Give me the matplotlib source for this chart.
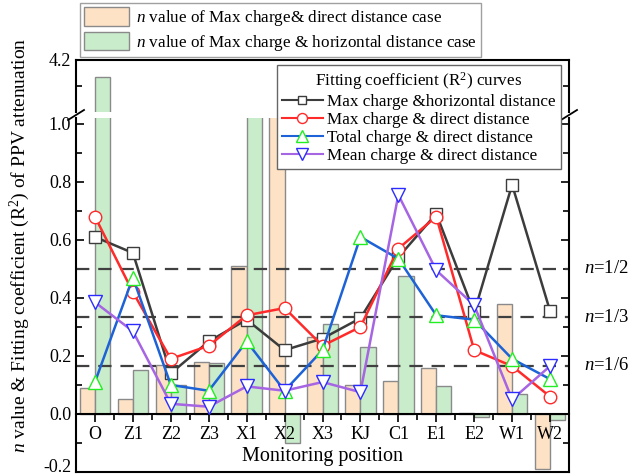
import matplotlib
matplotlib.use("Agg")
import matplotlib.pyplot as plt
import numpy as np
from matplotlib.patches import Patch
from matplotlib.lines import Line2D
from matplotlib.ticker import MultipleLocator, FixedLocator

plt.rcParams['font.family'] = ['Liberation Serif', 'DejaVu Serif']
plt.rcParams['mathtext.fontset'] = 'custom'
plt.rcParams['mathtext.rm'] = 'Liberation Serif'
plt.rcParams['mathtext.it'] = 'Liberation Serif:italic'

positions = ['O', 'Z1', 'Z2', 'Z3', 'X1', 'X2', 'X3', 'KJ', 'C1', 'E1', 'E2', 'W1', 'W2']

n_direct = [0.09, 0.05, 0.17, 0.18, 0.51, 1.30, 0.265, 0.10, 0.115, 0.16, 0.005, 0.38, -0.19]
n_horizontal = [4.00, 0.15, 0.10, 0.175, 1.50, -0.10, 0.31, 0.23, 0.475, 0.095, -0.01, 0.07, -0.02]

r2_max_horizontal = [0.61, 0.555, 0.14, 0.25, 0.325, 0.22, 0.26, 0.33, 0.54, 0.69, 0.35, 0.79, 0.355]
r2_max_direct = [0.68, 0.42, 0.19, 0.235, 0.34, 0.365, 0.235, 0.30, 0.57, 0.68, 0.22, 0.165, 0.06]
r2_total_direct = [0.11, 0.47, 0.10, 0.08, 0.25, 0.08, 0.22, 0.61, 0.535, 0.34, 0.325, 0.19, 0.12]
r2_mean_direct = [0.385, 0.285, 0.035, 0.025, 0.095, 0.08, 0.11, 0.075, 0.755, 0.495, 0.375, 0.05, 0.165]

n_levels = [1/2, 1/3, 1/6]
n_labels = ['$n$=1/2', '$n$=1/3', '$n$=1/6']

W, H = 638, 476
fig = plt.figure(figsize=(W/100, H/100), dpi=100)

left, right = 76/W, 569/W
ax = fig.add_axes([left, 1-472/H, right-left, (472-118)/H])
axu = fig.add_axes([left, 1-112/H, right-left, (112-60)/H], sharex=ax)

x = np.arange(len(positions))
bw = 0.4
c_or, c_gr = '#fde2c6', '#c9eccb'
edge = '#8a8a8a'

for a in (ax, axu):
    a.bar(x - bw/2, n_direct, width=bw, color=c_or, edgecolor=edge, linewidth=1.0, zorder=1)
    a.bar(x + bw/2, n_horizontal, width=bw, color=c_gr, edgecolor=edge, linewidth=1.0, zorder=1)

series = [
    (r2_max_horizontal, '#3c3c3c', 's', '#3c3c3c', 'Max charge &horizontal distance', 8),
    (r2_max_direct, '#ff2a2a', 'o', '#ff2a2a', 'Max charge & direct distance', 9),
    (r2_total_direct, '#1d62d6', '^', '#22ee22', 'Total charge & direct distance', 10),
    (r2_mean_direct, '#a665e2', 'v', '#2b2bff', 'Mean charge & direct distance', 10),
]
handles_lines = []
for vals, lc, mk, mc, lab, ms in series:
    ax.plot(x, vals, color=lc, lw=1.8, marker=mk, markersize=ms, markerfacecolor='white',
            markeredgecolor=mc, markeredgewidth=1.0, zorder=3)
    handles_lines.append(Line2D([], [], color=lc, lw=1.5, marker=mk, markersize=ms*0.8,
                                markerfacecolor='white', markeredgecolor=mc, markeredgewidth=1.0, label=lab))

for lv, lab in zip(n_levels, n_labels):
    ax.axhline(lv, color='#404040', lw=1.6, ls=(0, (6, 4)), zorder=2)
    ax.text(1.03, lv, lab, transform=ax.get_yaxis_transform(), ha='left', va='center', fontsize=13.5)

ax.set_xlim(-0.5, len(positions) - 0.5)
ax.set_ylim(-0.2, 1.02)
axu.set_ylim(3.6, 4.2)

# lower axes styling
ax.spines['top'].set_visible(False)
ax.spines['bottom'].set_position(('data', 0))
ax.spines['bottom'].set_linewidth(1.5)
ax.spines['left'].set_linewidth(1.5)
ax.spines['right'].set_linewidth(1.5)
ax.plot([0, 1], [0, 0], transform=ax.transAxes, color='black', lw=1.5, clip_on=False, zorder=5)
ax.set_xticks(x)
ax.set_xticklabels(positions, fontsize=13)
ax.xaxis.set_minor_locator(FixedLocator(x[:-1] + 0.5))
ax.tick_params(axis='x', which='major', direction='out', length=6, width=1.2, pad=3)
ax.tick_params(axis='x', which='minor', direction='out', length=4, width=1.2)
ax.set_yticks([-0.2, 0.0, 0.2, 0.4, 0.6, 0.8, 1.0])
ax.set_yticklabels(['-0.2', '0.0', '0.2', '0.4', '0.6', '0.8', '1.0'], fontsize=13)
ax.get_yticklabels()[0].set_va('baseline')
ax.yaxis.set_minor_locator(MultipleLocator(0.1))
ax.tick_params(axis='y', which='both', direction='in', left=True, right=True, width=1.2)
ax.tick_params(axis='y', which='major', length=6)
ax.tick_params(axis='y', which='minor', length=4)
ax.set_xlabel('Monitoring position', fontsize=14.5)
ax.xaxis.set_label_coords(0.5, 0.072)

# upper axes styling
axu.spines['bottom'].set_visible(False)
for s in ('top', 'left', 'right'):
    axu.spines[s].set_linewidth(1.5)
axu.tick_params(axis='x', which='both', bottom=False, labelbottom=False)
axu.set_yticks([4.2])
axu.set_yticklabels(['4.2'], fontsize=13)
axu.yaxis.set_minor_locator(FixedLocator([3.9]))
axu.tick_params(axis='y', which='both', direction='in', left=True, right=True, width=1.2)
axu.tick_params(axis='y', which='major', length=6)
axu.tick_params(axis='y', which='minor', length=4)

# break marks
for xf in (left, right):
    fig.add_artist(Line2D([xf - 8/W, xf + 8/W], [1 - 120/H, 1 - 110/H], color='black', lw=1.3))

fig.text(20/W, 1 - 245/H, '$n$ value & Fitting coefficient (R$^2$) of PPV attenuation',
         rotation=90, ha='center', va='center', fontsize=14)

bar_handles = [Patch(facecolor=c_or, edgecolor=edge, label='$n$ value of Max charge& direct distance case'),
               Patch(facecolor=c_gr, edgecolor=edge, label='$n$ value of Max charge & horizontal distance case')]
leg1 = fig.legend(handles=bar_handles, loc='upper left', bbox_to_anchor=(80/W, 1 - 3/H),
                  fontsize=12.3, frameon=True, fancybox=False, edgecolor='#888888',
                  handlelength=2.6, handleheight=1.3, handletextpad=0.4, borderpad=0.25,
                  labelspacing=0.2, borderaxespad=0)
leg1.get_frame().set_linewidth(1.0)

leg2 = fig.legend(handles=handles_lines, loc='upper right', bbox_to_anchor=(561/W, 1 - 65/H),
                  title='Fitting coefficient (R$^2$) curves', title_fontsize=12.3,
                  fontsize=12.3, frameon=True, fancybox=False, edgecolor='#666666',
                  handlelength=2.4, handletextpad=0.25, borderpad=0.3, labelspacing=0.12,
                  borderaxespad=0, framealpha=1)
leg2.get_frame().set_linewidth(1.0)

fig.savefig('out.png', dpi=100)
